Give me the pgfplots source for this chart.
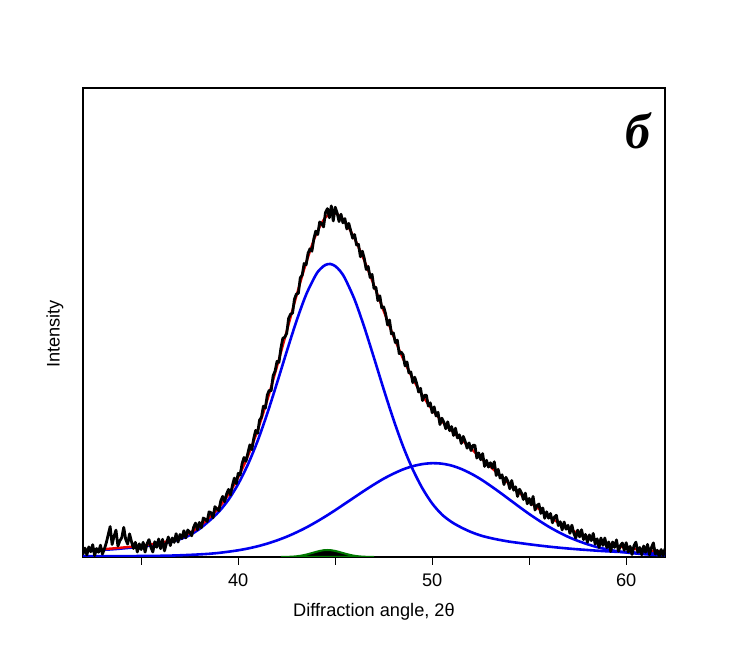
\documentclass[border=0pt]{standalone}
\usepackage{pgfplots}
\pgfplotsset{compat=1.18}
\usepackage{fontspec}
\setmainfont{Liberation Sans}
\newfontfamily\lserif{Liberation Serif}
\newcommand\fs{\fontsize{9.1}{11}\selectfont}
\definecolor{pblue}{RGB}{0,0,240}
\definecolor{pred}{RGB}{240,0,0}
\definecolor{pgreen}{RGB}{0,120,0}
\begin{document}
\begin{tikzpicture}
\path[use as bounding box] (-41.5pt,-55.5pt) rectangle (333pt,278.5pt);
\begin{axis}[
  scale only axis, width=291pt, height=234.5pt,
  xmin=32, xmax=62, ymin=0, ymax=469,
  axis line style={line width=0.9pt},
  xtick={35,40,45,50,55,60}, xticklabels={,40,,50,,60},
  ytick=\empty,
  tick pos=bottom, tick align=outside, major tick length=4pt,
  tick style={line width=0.7pt, black},
  /pgf/number format/assume math mode=true,
  tick label style={font=\fs},
  xticklabel style={yshift=-1pt},
  label style={font=\fs},
  xlabel={Diffraction angle, 2θ},
  xlabel style={at={(rel axis cs:0.5,0)}, anchor=center, yshift=-27.5pt},
  ylabel={Intensity},
  ylabel style={at={(rel axis cs:-0.0481,0.4755)}, anchor=center},
]
% component 1
\addplot[pblue, line width=1.3pt, smooth] coordinates {
(32,6.0)(32.5,6.5)(33,7.1)(33.5,7.7)(34,8.5)(34.5,9.4)(35,10.4)(35.5,11.6)(36,13.1)(36.5,15.0)
(37,17.8)(37.5,21.8)(38,28.0)(38.5,36.0)(39,45.2)(39.5,57.3)(40,73.0)(40.5,92.5)(41,116.0)(41.5,143.6)
(42,174.0)(42.5,205.4)(43,235.7)(43.5,262.3)(44,282.0)(44.25,288.3)(44.5,292.1)(44.75,293.0)(45,290.9)(45.25,286.1)(45.5,278.7)
(46,257.4)(46.5,229.8)(47,199.1)(47.5,167.7)(48,137.7)(48.5,110.6)(49,87.5)(49.5,68.5)(50,53.5)(50.5,42.5)
(51,35.0)(51.5,29.5)(52,25.0)(52.5,21.5)(53,19.0)(53.5,17.0)(54,15.3)(54.5,14.0)(55,12.7)(55.5,11.5)
(56,10.4)(56.5,9.4)(57,8.5)(57.5,7.7)(58,7.0)(58.5,6.3)(59,5.7)(59.5,5.2)(60,4.8)(60.5,4.4)
(61,4.1)(61.5,3.8)(62,3.5)};
% component 2
\addplot[pblue, line width=1.3pt, smooth] coordinates {
(32,0.8)(32.5,0.8)(33,0.8)(33.5,0.8)(34,0.9)(34.5,0.9)(35,1.0)(35.5,1.1)(36,1.2)(36.5,1.4)
(37,1.7)(37.5,2.1)(38,2.6)(38.5,3.2)(39,4.1)(39.5,5.3)(40,6.7)(40.5,8.5)(41,10.7)(41.5,13.4)
(42,16.6)(42.5,20.3)(43,24.6)(43.5,29.4)(44,34.8)(44.5,40.6)(45,46.8)(45.5,53.3)(46,59.8)(46.5,66.3)
(47,72.5)(47.5,78.3)(48,83.3)(48.5,87.6)(49,90.8)(49.5,92.9)(50,93.8)(50.5,93.3)(51,91.4)(51.5,88.0)
(52,83.4)(52.5,77.8)(53,71.3)(53.5,64.4)(54,57.2)(54.5,50.0)(55,43.0)(55.5,36.5)(56,30.4)(56.5,25.0)
(57,20.2)(57.5,16.2)(58,12.8)(58.5,9.9)(59,7.7)(59.5,5.9)(60,4.5)(60.5,3.5)(61,2.7)(61.5,2.1)(62,1.7)};
% fit (sum)
\addplot[pred, line width=1.2pt, smooth] coordinates {
(32,6.8)(32.5,7.3)(33,7.9)(33.5,8.5)(34,9.4)(34.5,10.3)(35,11.4)(35.5,12.7)(36,14.3)(36.5,16.4)
(37,19.5)(37.5,23.9)(38,30.6)(38.5,39.2)(39,49.3)(39.5,62.6)(40,79.7)(40.5,101.0)(41,126.7)(41.5,157.0)
(42,190.6)(42.5,225.7)(43,261.0)(43.5,294.1)(44,321.9)(44.5,339.6)(45,343.8)(45.5,335.4)(46,318.4)(46.5,296.4)
(47,271.6)(47.5,246.0)(48,221.0)(48.5,198.2)(49,178.3)(49.5,161.4)(50,147.3)(50.5,135.8)(51,126.4)(51.5,117.5)
(52,108.4)(52.5,99.3)(53,90.3)(53.5,81.4)(54,72.5)(54.5,64.0)(55,55.7)(55.5,48.0)(56,40.8)(56.5,34.4)
(57,28.7)(57.5,23.9)(58,19.8)(58.5,16.2)(59,13.4)(59.5,11.1)(60,9.3)(60.5,7.9)(61,6.8)(61.5,5.9)(62,5.2)};
% measured data
\addplot[black, line width=1.4pt, line join=round] coordinates {
(32.0,2.8)(32.1,8.9)(32.2,2.0)(32.3,10.1)(32.4,5.2)(32.5,12.3)(32.6,1.4)(32.7,8.5)(32.8,4.7)(32.9,11.8)
(33.0,2.9)(33.1,8.0)(33.2,14.1)(33.3,22.3)(33.4,30.4)(33.5,12.5)(33.6,20.7)(33.7,26.9)(33.8,11.0)(33.9,16.2)
(34.0,19.4)(34.1,29.6)(34.2,17.8)(34.3,12.9)(34.4,23.1)(34.5,15.3)(34.6,8.5)(34.7,14.7)(34.8,5.0)(34.9,13.2)
(35.0,7.4)(35.1,14.7)(35.2,4.9)(35.3,13.2)(35.4,17.4)(35.5,9.7)(35.6,5.0)(35.7,15.3)(35.8,9.7)(35.9,18.0)
(36.0,8.3)(36.1,17.7)(36.2,6.1)(36.3,13.6)(36.4,20.0)(36.5,11.4)(36.6,19.0)(36.7,14.6)(36.8,23.3)(36.9,14.9)
(37.0,22.5)(37.1,18.4)(37.2,26.3)(37.3,19.1)(37.4,27.0)(37.5,24.9)(37.6,21.2)(37.7,29.6)(37.8,33.9)(37.9,27.3)
(38.0,34.6)(38.1,29.3)(38.2,39.0)(38.3,37.8)(38.4,35.5)(38.5,45.2)(38.6,44.2)(38.7,39.2)(38.8,50.3)(38.9,48.3)
(39.0,46.3)(39.1,56.0)(39.2,60.6)(39.3,55.3)(39.4,62.9)(39.5,67.6)(39.6,62.0)(39.7,71.4)(39.8,78.9)(39.9,73.3)
(40.0,83.7)(40.1,82.0)(40.2,93.2)(40.3,99.5)(40.4,95.7)(40.5,104.0)(40.6,112.1)(40.7,107.3)(40.8,118.4)(40.9,126.6)
(41.0,123.7)(41.1,136.8)(41.2,139.8)(41.3,150.9)(41.4,148.9)(41.5,162.0)(41.6,166.7)(41.7,166.4)(41.8,181.2)(41.9,185.9)
(42.0,195.6)(42.1,194.6)(42.2,208.6)(42.3,218.7)(42.4,219.7)(42.5,223.7)(42.6,238.8)(42.7,242.8)(42.8,243.9)(42.9,257.9)
(43.0,263.0)(43.1,263.6)(43.2,279.2)(43.3,281.9)(43.4,293.5)(43.5,292.1)(43.6,303.7)(43.7,308.2)(43.8,305.8)(43.9,318.3)
(44.0,325.9)(44.1,322.4)(44.2,335.0)(44.3,333.5)(44.4,330.1)(44.5,344.6)(44.6,348.4)(44.7,339.3)(44.8,351.1)(44.9,336.0)
(45.0,349.8)(45.1,344.1)(45.2,335.4)(45.3,342.8)(45.4,334.1)(45.5,338.4)(45.6,328.0)(45.7,333.6)(45.8,326.2)(45.9,318.8)
(46.0,322.4)(46.1,312.0)(46.2,312.6)(46.3,300.2)(46.4,305.8)(46.5,298.4)(46.6,287.4)(46.7,290.5)(46.8,279.5)(46.9,282.6)
(47.0,268.6)(47.1,269.5)(47.2,256.4)(47.3,261.2)(47.4,249.1)(47.5,250.0)(47.6,243.0)(47.7,232.0)(47.8,237.0)(47.9,223.0)
(48.0,224.0)(48.1,214.4)(48.2,216.9)(48.3,203.3)(48.4,204.8)(48.5,202.2)(48.6,191.1)(48.7,195.1)(48.8,184.0)(48.9,185.0)
(49.0,174.3)(49.1,179.8)(49.2,173.5)(49.3,165.0)(49.4,168.7)(49.5,156.4)(49.6,161.6)(49.7,161.8)(49.8,151.0)(49.9,154.2)
(50.0,144.3)(50.1,150.1)(50.2,141.0)(50.3,144.7)(50.4,132.4)(50.5,138.8)(50.6,134.9)(50.7,128.2)(50.8,135.2)(50.9,126.3)
(51.0,130.4)(51.1,121.5)(51.2,128.8)(51.3,119.0)(51.4,122.2)(51.5,113.5)(51.6,120.6)(51.7,115.6)(51.8,108.8)(51.9,114.1)
(52.0,106.4)(52.1,111.6)(52.2,111.8)(52.3,98.9)(52.4,104.1)(52.5,97.3)(52.6,103.4)(52.7,90.6)(52.8,96.7)(52.9,89.9)
(53.0,94.3)(53.1,89.0)(53.2,95.2)(53.3,81.5)(53.4,87.7)(53.5,78.9)(53.6,82.2)(53.7,72.4)(53.8,79.7)(53.9,75.9)
(54.0,68.2)(54.1,76.5)(54.2,66.8)(54.3,70.2)(54.4,60.5)(54.5,67.8)(54.6,64.2)(54.7,57.5)(54.8,63.9)(54.9,53.2)
(55.0,58.6)(55.1,52.1)(55.2,60.6)(55.3,47.0)(55.4,51.5)(55.5,53.0)(55.6,43.6)(55.7,49.1)(55.8,38.7)(55.9,45.2)
(56.0,38.8)(56.1,43.5)(56.2,34.2)(56.3,40.0)(56.4,41.7)(56.5,31.4)(56.6,35.3)(56.7,27.1)(56.8,35.0)(56.9,27.8)
(57.0,31.7)(57.1,23.7)(57.2,31.8)(57.3,23.8)(57.4,18.9)(57.5,26.9)(57.6,20.1)(57.7,27.3)(57.8,17.4)(57.9,22.6)
(58.0,14.8)(58.1,22.1)(58.2,16.4)(58.3,23.6)(58.4,12.9)(58.5,18.2)(58.6,9.6)(58.7,19.0)(58.8,11.6)(58.9,19.0)
(59.0,9.4)(59.1,15.0)(59.2,5.5)(59.3,15.0)(59.4,9.6)(59.5,17.1)(59.6,5.7)(59.7,11.4)(59.8,14.0)(59.9,6.7)
(60.0,14.3)(60.1,5.0)(60.2,10.7)(60.3,2.5)(60.4,11.2)(60.5,14.9)(60.6,4.7)(60.7,9.5)(60.8,2.2)(60.9,11.0)
(61.0,4.8)(61.1,12.6)(61.2,2.4)(61.3,9.3)(61.4,14.1)(61.5,2.9)(61.6,6.8)(61.7,0.6)(61.8,7.5)(61.9,1.3)(62.0,8.2)};
% small component
\addplot[draw=pgreen, fill=black, line width=1pt, smooth] coordinates {
(42.2,0)(42.4,0.05)(42.6,0.2)(42.8,0.39)(43.0,0.72)(43.2,1.23)(43.4,1.95)(43.6,2.88)(43.8,3.96)(44.0,5.08)(44.2,6.07)(44.4,6.75)
(44.6,7.0)(44.8,6.75)(45.0,6.07)(45.2,5.08)(45.4,3.96)(45.6,2.88)(45.8,1.95)(46.0,1.23)(46.2,0.72)(46.4,0.39)(46.6,0.2)(46.8,0.05)(47.0,0)} \closedcycle;
\node[font=\fontsize{25}{30}\lserif\bfseries\itshape] at (rel axis cs:0.9536,0.908) {б};
\end{axis}
\end{tikzpicture}
\end{document}
